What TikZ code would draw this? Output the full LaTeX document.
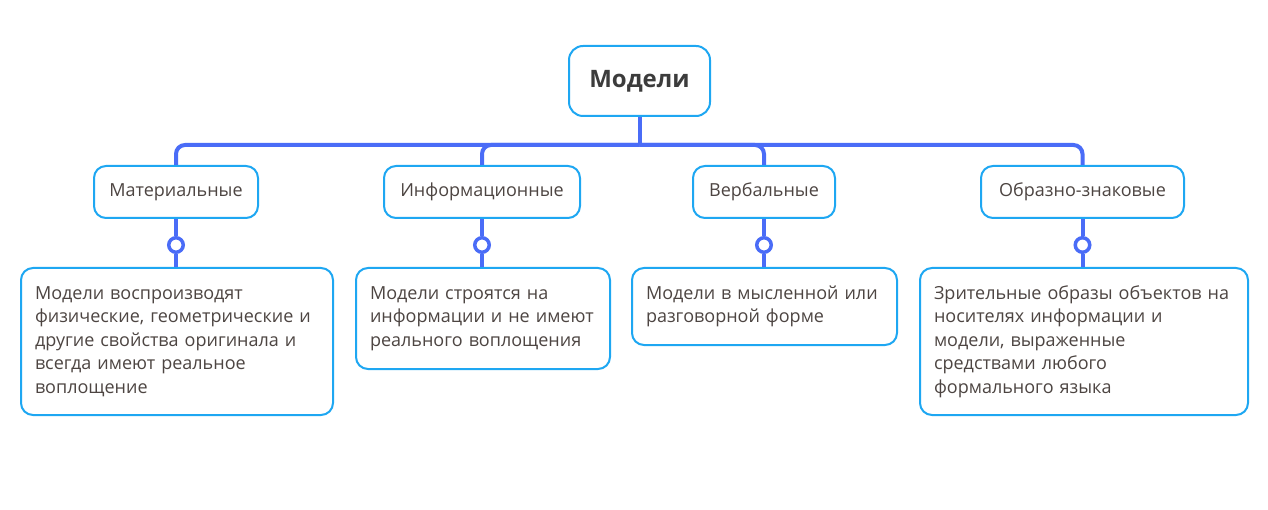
\documentclass[tikz,border=0pt]{standalone}
\usepackage{fontspec}
\setmainfont{Open Sans}
\definecolor{bord}{HTML}{1EA7F2}
\definecolor{conn}{HTML}{4A6CF7}
\definecolor{txt}{HTML}{4D4542}
\definecolor{titlecol}{HTML}{3C3C3C}
\begin{document}
\begin{tikzpicture}[x=1pt,y=-1pt,
  box/.style={draw=bord, line width=2pt, rounded corners=12pt, fill=white, text=txt},
  lvl/.style={box, minimum height=52pt, inner sep=0pt, font=\fontsize{18}{22}\selectfont},
  leaf/.style={box, anchor=north west, inner xsep=14pt, inner ysep=0pt, align=left,
    font=\fontsize{18}{23.5}\selectfont},
  conn line/.style={draw=conn, line width=4pt, rounded corners=9pt},
  dot/.style={circle, draw=conn, line width=3.5pt, fill=white, minimum size=14.5pt, inner sep=0pt}
]
\useasboundingbox (0,0) rectangle (1268,510);

\node[box, minimum width=141pt, minimum height=70pt, rounded corners=14pt,
  font=\bfseries\fontsize{24}{28}\selectfont, text=titlecol] (root) at (639.5,81) {Модели};

\node[lvl, minimum width=164pt] (m1) at (176,192) {Материальные};
\node[lvl, minimum width=196pt] (m2) at (482,192) {Информационные};
\node[lvl, minimum width=142pt] (m3) at (764,192) {Вербальные};
\node[lvl, minimum width=203pt] (m4) at (1082.5,192) {Образно-знаковые};

\node[leaf, minimum width=312pt, minimum height=147pt, text width=284pt] (l1) at (20,267)
  {Модели воспроизводят\\физические, геометрические и\\другие свойства оригинала и\\всегда имеют реальное\\воплощение};
\node[leaf, minimum width=254pt, minimum height=101pt, text width=226pt] (l2) at (355,267)
  {Модели строятся на\\информации и не имеют\\реального воплощения};
\node[leaf, minimum width=265pt, minimum height=77pt, text width=237pt] (l3) at (631,267)
  {Модели в мысленной или\\разговорной форме};
\node[leaf, minimum width=328pt, minimum height=147pt, text width=300pt] (l4) at (919,267)
  {Зрительные образы объектов на\\носителях информации и\\модели, выраженные\\средствами любого\\формального языка};

\coordinate (bus) at (639.5,145);
\draw[conn line, rounded corners=0pt] (root.south) -- (bus);
\foreach \i in {1,...,4}{
  \draw[conn line] (bus) -| (m\i.north);
}
\foreach \i/\x in {1/176,2/482,3/764,4/1082.5}{
  \node[dot] (c\i) at (\x,245) {};
  \draw[conn line] (m\i.south) -- (c\i.north);
  \draw[conn line] (c\i.south) -- (c\i |- l\i.north);
}
\end{tikzpicture}
\end{document}
